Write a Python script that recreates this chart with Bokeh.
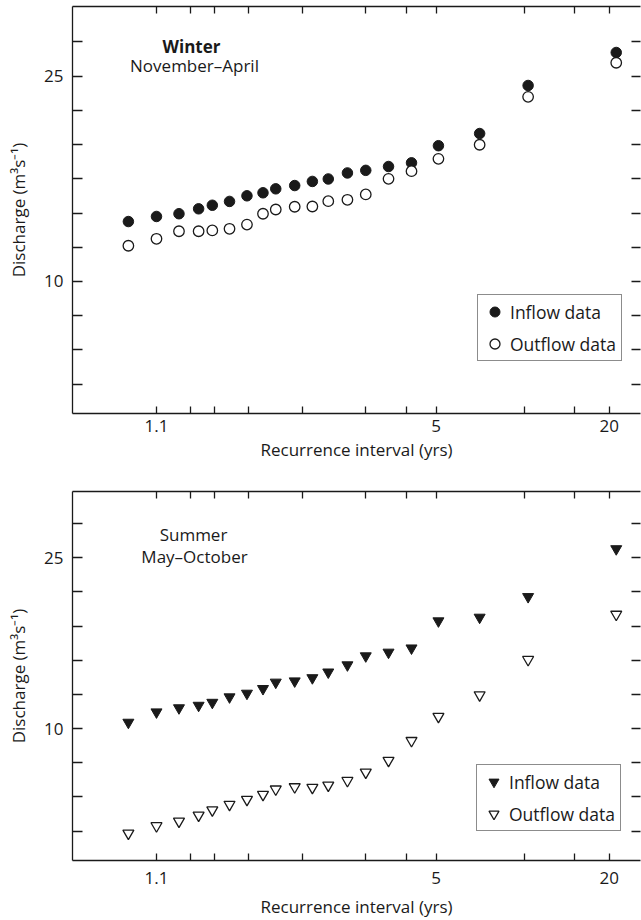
import numpy as np
from bokeh.plotting import figure
from bokeh.layouts import column
from bokeh.models import (Range1d, LinearAxis, FixedTicker, CustomJSTickFormatter,
                          Label, Legend, LegendItem, ColumnDataSource)
from bokeh.embed import file_html
from bokeh.resources import INLINE

# ---------------- data ----------------
recurrence_yrs = [1.05, 1.10, 1.16, 1.23, 1.29, 1.38, 1.49, 1.61, 1.72, 1.91,
                  2.12, 2.34, 2.65, 3.0, 3.52, 4.16, 5.09, 7.0, 10.3, 21.2]

winter_inflow = [14.38, 14.75, 14.95, 15.31, 15.57, 15.85, 16.26, 16.48, 16.77, 17.01,
                 17.31, 17.49, 17.93, 18.12, 18.40, 18.67, 19.92, 20.81, 24.32, 26.73]
winter_outflow = [12.61, 13.12, 13.67, 13.67, 13.73, 13.85, 14.16, 14.95, 15.26, 15.46,
                  15.48, 15.87, 15.97, 16.36, 17.50, 18.06, 18.96, 19.99, 23.49, 25.98]

summer_inflow = [10.54, 11.45, 11.81, 12.03, 12.29, 12.77, 13.09, 13.50, 14.06, 14.17,
                 14.45, 14.95, 15.58, 16.37, 16.69, 17.06, 19.44, 19.76, 21.57, 25.77]
summer_outflow = [0.81, 1.46, 1.86, 2.39, 2.85, 3.34, 3.77, 4.21, 4.68, 4.88,
                  4.82, 5.02, 5.43, 6.16, 7.20, 8.94, 11.06, 12.95, 16.05, 20.02]

x_tick_values = [1.1, 1.2, 1.3, 1.5, 2, 3, 4, 5, 10, 15, 20]
x_tick_labels = ["1.1", "", "", "", "", "", "", "5", "", "", "20"]

winter_y_ticks = [2.5, 5, 7.5, 10, 12.5, 15, 17.5, 20, 22.5, 25, 27.5]
summer_y_ticks = [1, 4, 7, 10, 13, 16, 19, 22, 25, 28]
y_labelled = [10, 25]

FONT = "Open Sans"
FS = "17px"
LFS = "17.5px"
INK = "#1a1a1a"


def gumbel(T):
    T = np.asarray(T, dtype=float)
    return -np.log(-np.log(1.0 - 1.0 / T))


x_ticks_u = [float(v) for v in gumbel(x_tick_values)]

x_formatter_code = """
for (let i = 0; i < tvals.length; i++) {
  if (Math.abs(tick - tvals[i]) < 1e-6) return tlabels[i];
}
return "";
"""
y_formatter_code = """
for (let i = 0; i < shown.length; i++) {
  if (Math.abs(tick - shown[i]) < 1e-6) return String(shown[i]);
}
return "";
"""


def make_panel(inflow, outflow, y_rng, y_ticks, marker, title_lines, legend_loc,
               height, border_top, border_bottom, label_standoff, axis_label_standoff):
    p = figure(width=641, height=height,
               x_range=Range1d(-1.5879, 3.2360), y_range=Range1d(*y_rng),
               output_backend="svg", toolbar_location=None,
               min_border_left=72, min_border_right=1,
               min_border_top=border_top, min_border_bottom=border_bottom)
    p.outline_line_color = None
    p.xgrid.visible = False
    p.ygrid.visible = False
    p.background_fill_color = "white"
    p.border_fill_color = "white"

    src = ColumnDataSource(dict(u=gumbel(recurrence_yrs), qin=inflow, qout=outflow))
    size = 10.5 if marker == "circle" else 11
    r_in = p.scatter("u", "qin", source=src, marker=marker, size=size,
                     fill_color=INK, line_color=INK, line_width=1)
    r_out = p.scatter("u", "qout", source=src, marker=marker, size=size,
                      fill_color="white", line_color=INK, line_width=1.3)

    xfmt = CustomJSTickFormatter(args=dict(tvals=x_ticks_u, tlabels=x_tick_labels),
                                 code=x_formatter_code)
    yfmt = CustomJSTickFormatter(args=dict(shown=y_labelled), code=y_formatter_code)
    blank = CustomJSTickFormatter(code="return '';")

    xa = p.xaxis[0]
    xa.ticker = FixedTicker(ticks=x_ticks_u, minor_ticks=[])
    xa.formatter = xfmt
    xa.axis_label = "Recurrence interval (yrs)"
    xa.major_label_standoff = label_standoff
    xa.axis_label_standoff = axis_label_standoff

    ya = p.yaxis[0]
    ya.ticker = FixedTicker(ticks=y_ticks, minor_ticks=[])
    ya.formatter = yfmt
    ya.axis_label = "Discharge (m³s⁻¹)"
    ya.major_label_standoff = 9
    ya.axis_label_standoff = 11

    top = LinearAxis(ticker=FixedTicker(ticks=x_ticks_u, minor_ticks=[]), formatter=blank)
    right = LinearAxis(ticker=FixedTicker(ticks=y_ticks, minor_ticks=[]), formatter=blank)
    p.add_layout(top, "above")
    p.add_layout(right, "right")

    for ax in (xa, ya, top, right):
        ax.axis_line_color = INK
        ax.axis_line_width = 1.3
        ax.major_tick_line_color = INK
        ax.major_tick_line_width = 1.3
        ax.major_tick_out = 0
        ax.minor_tick_line_color = None
        ax.major_label_text_font = FONT
        ax.major_label_text_font_size = FS
        ax.major_label_text_color = INK
        ax.axis_label_text_font = FONT
        ax.axis_label_text_font_size = FS
        ax.axis_label_text_font_style = "normal"
        ax.axis_label_text_color = INK
    xa.major_tick_in = 7
    top.major_tick_in = 7
    ya.major_tick_in = 10
    right.major_tick_in = 9
    right.axis_line_color = None
    for ax in (top, right):
        ax.major_label_text_font_size = "0px"
        ax.major_label_standoff = 0

    for (txt, x, y, style) in title_lines:
        p.add_layout(Label(x=x, y=y, x_units="screen", y_units="screen", text=txt,
                           text_align="center", text_baseline="alphabetic",
                           text_font=FONT, text_font_size=FS, text_font_style=style,
                           text_color=INK))

    legend = Legend(items=[LegendItem(label="Inflow data", renderers=[r_in]),
                           LegendItem(label="Outflow data", renderers=[r_out])],
                    location=legend_loc, padding=4, spacing=7, margin=0,
                    glyph_width=25, glyph_height=25, label_standoff=3, label_width=107,
                    label_text_font=FONT, label_text_font_size=LFS, label_text_color=INK,
                    border_line_color=INK, border_line_width=1.3,
                    background_fill_color="white", background_fill_alpha=1)
    p.add_layout(legend)
    return p


p1 = make_panel(winter_inflow, winter_outflow, (0.356, 30.09), winter_y_ticks, "circle",
                [("Winter", 119, 367, "bold"), ("November–April", 122, 348, "normal")],
                (405, 52), height=470, border_top=6, border_bottom=57,
                label_standoff=6, axis_label_standoff=3)

p2 = make_panel(summer_inflow, summer_outflow, (-1.578, 30.806), summer_y_ticks,
                "inverted_triangle",
                [("Summer", 121, 326, "normal"), ("May–October", 122, 304, "normal")],
                (404, 29), height=450, border_top=21, border_bottom=57,
                label_standoff=11, axis_label_standoff=8)

layout = column(p1, p2, spacing=0)

with open("out.html", "w") as f:
    f.write(file_html(layout, INLINE))
